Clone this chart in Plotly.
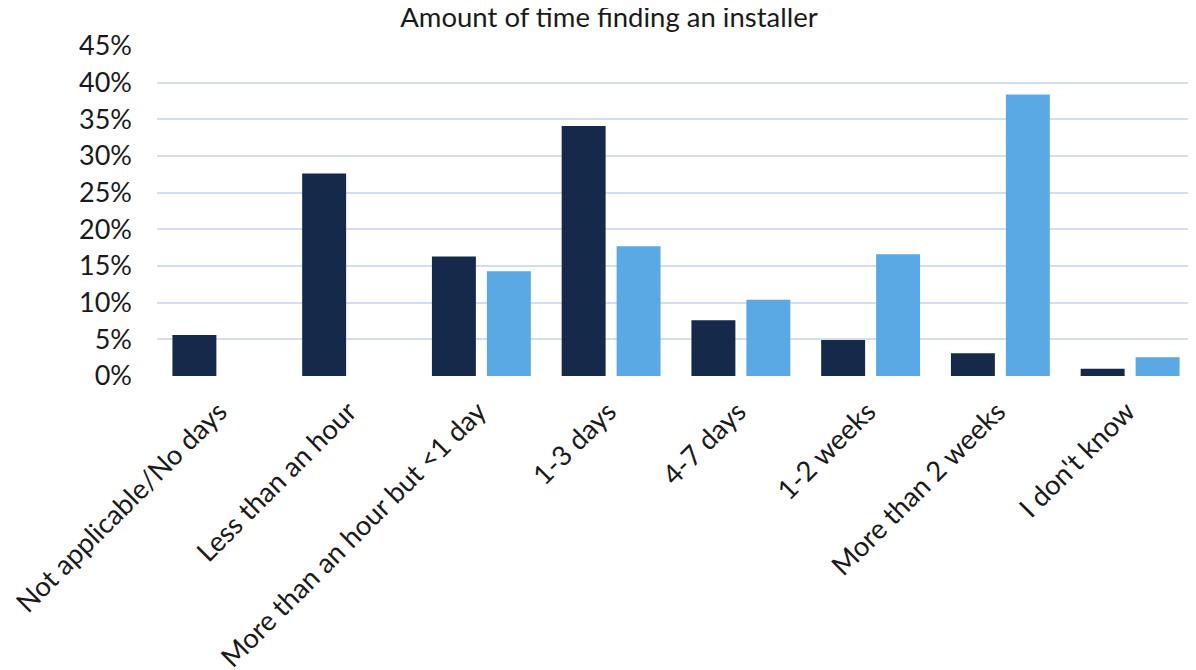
import plotly.graph_objects as go

categories = ["Not applicable/No days", "Less than an hour", "More than an hour but <1 day",
              "1-3 days", "4-7 days", "1-2 weeks", "More than 2 weeks", "I don't know"]
series_dark = [5.6, 27.6, 16.3, 34.1, 7.6, 4.9, 3.1, 1.0]
series_light = [0, 0, 14.3, 17.7, 10.4, 16.6, 38.4, 2.55]
tick_vals = [0, 5, 10, 15, 20, 25, 30, 35, 40, 45]
tick_text = ["0%", "5%", "10%", "15%", "20%", "25%", "30%", "35%", "40%", "45%"]

FONT = "Lato, 'Open Sans', sans-serif"
FS = 27

fig = go.Figure()
fig.add_trace(go.Bar(x=categories, y=series_dark, marker=dict(color="#15294A", line=dict(width=0)),
                     name="Series 1", showlegend=False))
fig.add_trace(go.Bar(x=categories, y=series_light, marker=dict(color="#5AA9E5", line=dict(width=0)),
                     name="Series 2", showlegend=False))

fig.update_layout(
    width=1196, height=670,
    margin=dict(l=149, r=9, t=38, b=302, autoexpand=False),
    paper_bgcolor="white", plot_bgcolor="white",
    barmode="group", bargap=0.153, bargroupgap=0.2,
    title=dict(text="Amount of time finding an installer", x=0.5025, xanchor="center",
               y=1.0, yanchor="top", pad=dict(t=0, b=0),
               font=dict(family=FONT, size=27.5, color="#1a1a1a")),
    font=dict(family=FONT, size=FS, color="#1a1a1a"),
)
fig.update_yaxes(range=[0, 45], tickvals=tick_vals, ticktext=tick_text,
                 showgrid=True, gridcolor="#D3DEF3", gridwidth=1.5,
                 zeroline=False, showline=False, ticks="", ticklabelstandoff=24,
                 tickfont=dict(family=FONT, size=FS, color="#1a1a1a"))
fig.update_xaxes(tickangle=-45, showgrid=False, showline=False, ticks="",
                 ticklabelstandoff=13, ticklabelshift=-3,
                 tickfont=dict(family=FONT, size=27.5, color="#1a1a1a"))

fig.write_html("out.html")
